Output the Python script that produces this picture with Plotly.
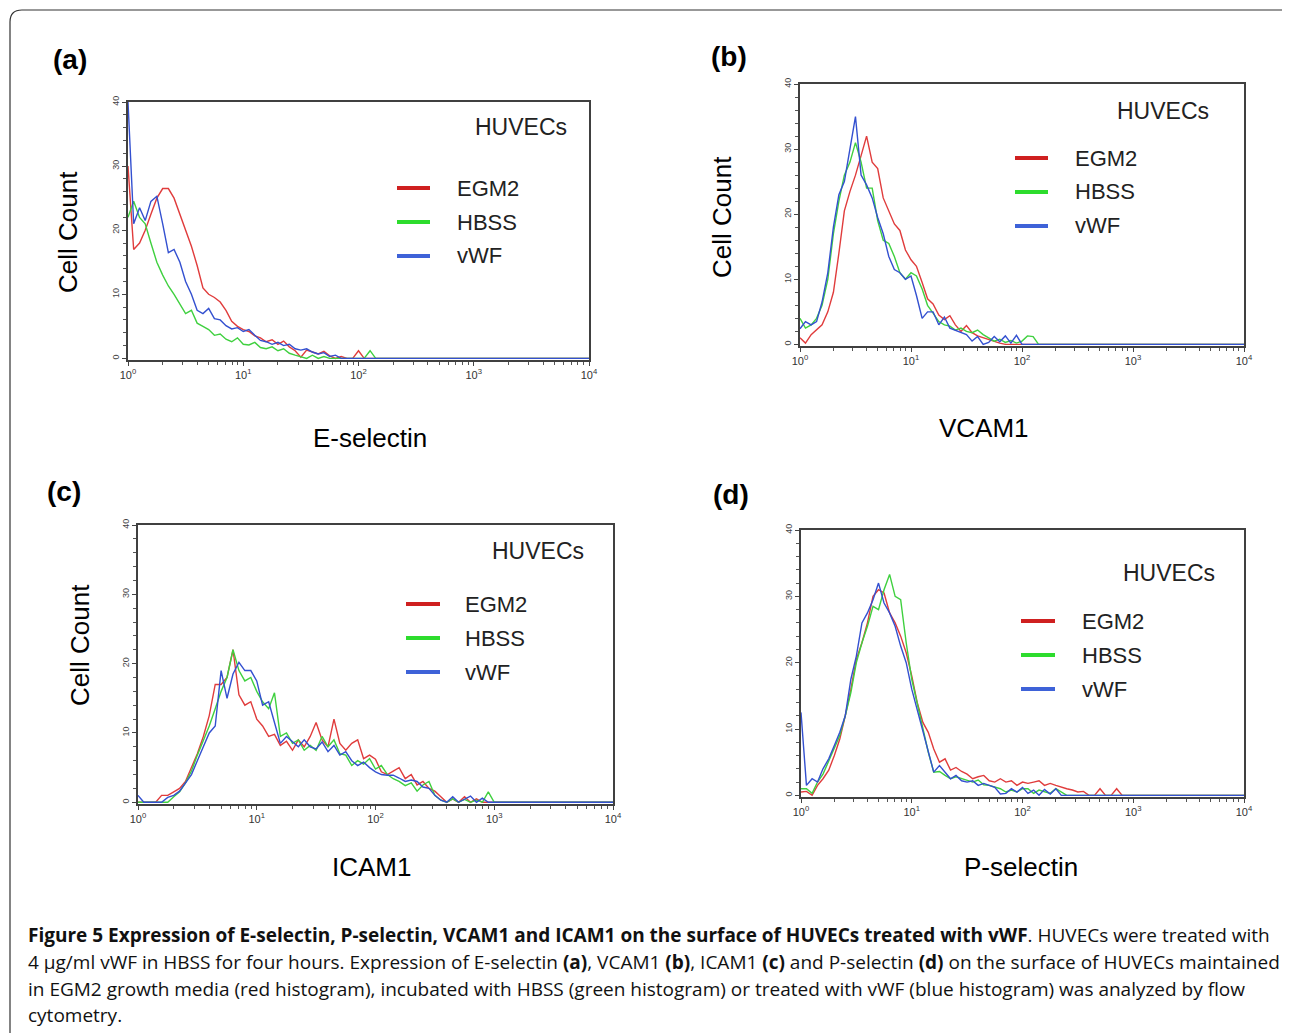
import plotly.graph_objects as go

W, H = 1290, 1033

# channel positions, 20 per decade from 10^0 to 10^3, plus the 10^4 end of the scale
CHANNELS = [1.00, 1.12, 1.26, 1.41, 1.58, 1.78, 2.00, 2.24, 2.51, 2.82,
            3.16, 3.55, 3.98, 4.47, 5.01, 5.62, 6.31, 7.08, 7.94, 8.91,
            10.0, 11.2, 12.6, 14.1, 15.8, 17.8, 20.0, 22.4, 25.1, 28.2,
            31.6, 35.5, 39.8, 44.7, 50.1, 56.2, 63.1, 70.8, 79.4, 89.1,
            100, 112, 126, 141, 158, 178, 200, 224, 251, 282,
            316, 355, 398, 447, 501, 562, 631, 708, 794, 891,
            1000, 10000]

# cell counts per channel (channels past the end of a list are empty)
ESEL_EGM2 = [30, 17, 18, 20, 22.5, 25, 26.5, 26.5, 25, 22.5, 20, 17.5, 14.5, 11, 10, 9.5,
             8.8, 7.5, 5.8, 5, 4.5, 4.2, 3.5, 3.2, 2.6, 2.9, 2.2, 2.7, 1.8, 1.2, 0.2, 1.3,
             1.0, 0.7, 1.1, 0.4, 0, 0.3, 0, 0, 1.2, 0]
ESEL_HBSS = [22, 24.5, 22, 21, 18, 15, 13, 11.3, 10, 8.5, 7, 7.5, 5.5, 5, 4.5, 3.6,
             3.8, 3, 2.6, 3.2, 2.2, 2.1, 2.5, 1.7, 1.5, 1.8, 1.2, 1.5, 0.8, 0.5, 0.3, 0,
             0.5, 0, 0.3, 0, 0, 0, 0, 0, 0, 0, 1.2, 0]
ESEL_VWF = [40, 21, 23.5, 21.5, 24.5, 25.3, 21, 16.5, 17, 15, 12, 10, 7.5, 7, 7.8, 6.2,
            6, 5.1, 4.6, 4.8, 4.2, 4.5, 3.6, 2.8, 2.6, 2.2, 2.5, 2.0, 2.2, 1.5, 1.3, 1.5,
            1.0, 0.7, 0.9, 0.3, 0.5, 0]

VCAM_EGM2 = [1, 0.2, 1.5, 2.2, 3, 5, 8, 14, 20.5, 23.5, 26, 29, 32, 28, 27, 22.5,
             20.5, 18.5, 17.5, 14.5, 13, 12, 9.5, 7, 6.2, 4.5, 3.8, 4.4, 3, 2, 2.9, 1.8,
             1.3, 1, 0.8, 0.4, 0.2, 0]
VCAM_HBSS = [4, 2.5, 3, 4, 6, 10, 17, 22, 26, 28, 31, 28, 24, 24, 19, 16,
             15.5, 13.5, 11, 10, 11, 10.5, 8.5, 6, 4.8, 3.5, 3, 2.8, 2.2, 2.5, 2, 1.8,
             2.2, 1.5, 1, 0.5, 0.8, 0.3, 0.6, 0.2, 0.5, 1.3, 1.2, 0]
VCAM_VWF = [2.4, 3.5, 3.0, 3.5, 6.5, 11, 18, 23, 25, 30, 35, 26, 24.5, 22.5, 19.5, 17,
            13.5, 11.5, 11, 10, 10.5, 7.5, 4, 5, 5, 3, 4.2, 2.5, 2.2, 1.8, 1.5, 0.5,
            1.2, 0, 0.3, 1.2, 0.4, 1.3, 0.2, 1.4, 0]

ICAM_EGM2 = [0, 0, 0, 0, 1, 1, 1.5, 2, 3, 5, 7, 9.5, 12.5, 17, 17, 18,
             22, 15.5, 14, 14.5, 12, 11, 9.5, 9.8, 8.2, 8.8, 7.5, 9, 8, 9.5, 11.5, 9,
             8, 12, 8.5, 7.5, 8.5, 9, 6.3, 6.8, 6.2, 4.4, 4, 4.5, 5, 3.4, 4, 2.5,
             3, 2, 1.6, 0.8, 0, 0.5, 0, 0.8, 0, 0.5, 0]
ICAM_HBSS = [0, 0, 0, 0, 0, 0, 0.8, 1.5, 2.8, 4.5, 6.8, 8.8, 11, 13.5, 16, 18,
             22, 19, 17.5, 18, 16, 14.5, 13.5, 15.8, 9.5, 10, 8.5, 9, 7.5, 8.2, 7.5, 9.5,
             8, 9, 7, 6.8, 5.3, 6, 5.5, 6.3, 4.8, 5.3, 4, 3.4, 3, 2.4, 2.8, 1.6,
             2.5, 3, 1, 0.3, 0, 0.5, 0, 0.4, 0, 0.3, 0, 1.5, 0]
ICAM_VWF = [1, 0, 0, 0, 0, 0.7, 1, 1.6, 2.8, 4, 6, 8, 10, 11, 19, 15,
            18.5, 20.2, 19, 19, 17.5, 14, 14.5, 11.5, 8.5, 9.5, 8.7, 8, 9, 8, 7.7, 8.7,
            7.3, 8.2, 6.8, 7.3, 6, 5.3, 5.8, 5, 4.4, 4, 3.9, 3.9, 3.5, 3, 3.2, 3,
            2.2, 2, 1, 0.3, 0, 0.8, 0, 0.5, 0.9, 0, 0.6, 0]

PSEL_EGM2 = [0.5, 0.6, 0, 1.5, 2.5, 3.8, 6, 8.5, 12, 16, 20.5, 23, 26, 30, 31, 30.5,
             27.5, 26, 24, 21.5, 18, 14, 11, 9.5, 7, 5, 5.5, 3.8, 4.2, 3.6, 3.2, 2.5,
             2.8, 3, 2.2, 2, 2.5, 2, 2.2, 1.5, 2, 1.8, 2, 2.2, 1.5, 1.8, 1.5, 1.2,
             1, 0.8, 0.5, 0.6, 0, 0, 1, 0, 0, 1, 0]
PSEL_HBSS = [1, 1, 0.3, 2, 3.2, 5.1, 7, 9, 12, 15.5, 20, 23, 25.5, 28.5, 28, 31,
             33.3, 30, 29.5, 23, 17.5, 14, 10, 6.5, 3.5, 3.6, 3, 2.5, 2.8, 2.5, 2.2, 2,
             2.3, 1.6, 1.5, 1.2, 1, 0.5, 0.8, 0.5, 1, 1, 0.3, 0.8, 0.5, 0.3, 1, 0.5, 0]
PSEL_VWF = [12.5, 1.5, 2.5, 2, 4, 5.5, 7.5, 9.5, 12, 17.5, 21, 26, 27.5, 29.5, 32, 29,
            27.5, 25.5, 22.5, 20, 16, 13, 9.5, 6.5, 3.5, 4.5, 3.5, 2.5, 3, 2.2, 2, 2.2,
            1.5, 1.8, 1.5, 1.2, 0.2, 0.3, 1, 0.5, 1.2, 0.3, 0.8, 0, 0.9, 0.2, 1, 0]

GROUPS = ["EGM2", "HBSS", "vWF"]
MARKERS = ["E-selectin", "VCAM1", "ICAM1", "P-selectin"]
PANEL_TAGS = ["(a)", "(b)", "(c)", "(d)"]
SERIES = [
    [ESEL_EGM2, ESEL_HBSS, ESEL_VWF],
    [VCAM_EGM2, VCAM_HBSS, VCAM_VWF],
    [ICAM_EGM2, ICAM_HBSS, ICAM_VWF],
    [PSEL_EGM2, PSEL_HBSS, PSEL_VWF],
]
Y_TICKS = [0, 10, 20, 30, 40]
X_TICKS = [1, 10, 100, 1000, 10000]
X_TICK_TEXT = ["10<sup>0</sup>", "10<sup>1</sup>", "10<sup>2</sup>", "10<sup>3</sup>", "10<sup>4</sup>"]

CAPTION = [
    "<b>Figure 5 Expression of E-selectin, P-selectin, VCAM1 and ICAM1 on the surface of HUVECs treated with vWF</b>. HUVECs were treated with",
    "4 µg/ml vWF in HBSS for four hours. Expression of E-selectin <b>(a)</b>, VCAM1 <b>(b)</b>, ICAM1 <b>(c)</b> and P-selectin <b>(d)</b> on the surface of HUVECs maintained",
    "in EGM2 growth media (red histogram), incubated with HBSS (green histogram) or treated with vWF (blue histogram) was analyzed by flow",
    "cytometry.",
]

# ---- layout (pixel positions in the 1290x1033 page) ----
PAGE_OFFSET = 8  # the page body margin shifts the figure by this much
LINE_COLORS = ["#e03c3c", "#3fd03f", "#3350d0"]
SWATCH_COLORS = ["#cf2020", "#2ddc2d", "#3e62d8"]

PANELS = [
    dict(plot=(128, 589, 102, 360), tag=(70, 60), ylab=(68, 232), xlab=(370, 438),
         huvec=(521, 127), legend=(397, 430, 188, 455)),
    dict(plot=(800, 1244, 84, 346), tag=(729, 56), ylab=(722, 217), xlab=(984, 428),
         huvec=(1163, 111), legend=(1015, 1048, 158, 1073)),
    dict(plot=(138, 613, 525, 804), tag=(64, 492), ylab=(80, 645), xlab=(371, 867),
         huvec=(538, 551), legend=(406, 440, 604, 463)),
    dict(plot=(801, 1244, 530, 797), tag=(731, 494), ylab=None, xlab=(1021, 867),
         huvec=(1169, 573), legend=(1021, 1055, 621, 1080)),
]
LEGEND_STEP = 34
CAPTION_Y = [935, 962, 989, 1015]


def fx(p):
    return (p - PAGE_OFFSET) / W


def fy(p):
    return 1 - (p - PAGE_OFFSET) / H


def note(x, y, text, size, **kw):
    font = dict(family=kw.pop("family", "Liberation Sans"), size=size, color=kw.pop("color", "#111"))
    kw.setdefault("xanchor", "center")
    kw.setdefault("yanchor", "middle")
    return dict(x=fx(x), y=fy(y), xref="paper", yref="paper", text=text,
                showarrow=False, font=font, **kw)


fig = go.Figure()
annotations = []
shapes = []
minor_x = [k * 10 ** d for d in range(4) for k in range(2, 10)]

for i, panel in enumerate(PANELS):
    n = i + 1
    xa = "x" if n == 1 else f"x{n}"
    ya = "y" if n == 1 else f"y{n}"
    left, right, top, bottom = panel["plot"]

    for values, name, color in zip(SERIES[i], GROUPS, LINE_COLORS):
        counts = values + [0] * (len(CHANNELS) - len(values))
        fig.add_trace(go.Scatter(
            x=CHANNELS, y=counts, mode="lines", name=name,
            line=dict(color=color, width=1.4),
            xaxis=xa, yaxis=ya, showlegend=False,
        ))

    axis_common = dict(showline=True, linecolor="#404040", linewidth=1.8, mirror=True,
                       showgrid=False, zeroline=False, ticks="outside", automargin=False,
                       tickcolor="#444")
    fig.layout[f"xaxis{'' if n == 1 else n}"] = dict(
        type="log", range=[0, 4], domain=[fx(left), fx(right)], anchor=ya,
        tickmode="array", tickvals=X_TICKS, ticktext=X_TICK_TEXT, ticklen=4,
        tickfont=dict(family="Liberation Sans", size=11, color="#333"),
        minor=dict(tickmode="array", tickvals=minor_x, ticks="outside", ticklen=3, tickcolor="#555"),
        **axis_common)
    fig.layout[f"yaxis{'' if n == 1 else n}"] = dict(
        range=[-0.25, 40], domain=[fy(bottom), fy(top)], anchor=xa,
        tickmode="array", tickvals=Y_TICKS, tickangle=-90, ticklen=4,
        tickfont=dict(family="Liberation Sans", size=9, color="#444"),
        minor=dict(dtick=2, ticks="outside", ticklen=3, tickcolor="#555"),
        **axis_common)

    annotations.append(note(*panel["tag"], f"<b>{PANEL_TAGS[i]}</b>", 28, color="#000"))
    if panel["ylab"]:
        annotations.append(note(*panel["ylab"], "Cell Count", 26, color="#000", textangle=-90))
    annotations.append(note(*panel["xlab"], MARKERS[i], 26, color="#000"))
    annotations.append(note(*panel["huvec"], "HUVECs", 23, color="#222"))

    sx0, sx1, sy, txt_x = panel["legend"]
    for k, (name, color) in enumerate(zip(GROUPS, SWATCH_COLORS)):
        yy = sy + k * LEGEND_STEP
        shapes.append(dict(type="line", xref="paper", yref="paper",
                           x0=fx(sx0), x1=fx(sx1), y0=fy(yy), y1=fy(yy),
                           line=dict(color=color, width=4)))
        annotations.append(note(txt_x, yy, name, 22, color="#222", xanchor="left"))

for line, yy in zip(CAPTION, CAPTION_Y):
    annotations.append(note(26, yy, line, 19, family="Open Sans", xanchor="left"))

# rounded page frame
pts = [(10, 1045), (10, 22), (10, 10), (22, 10), (1282, 10), (1294, 10), (1294, 22), (1294, 1045)]
p = [(fx(a), fy(b)) for a, b in pts]
frame = (f"M {p[0][0]},{p[0][1]} L {p[1][0]},{p[1][1]} Q {p[2][0]},{p[2][1]} {p[3][0]},{p[3][1]} "
         f"L {p[4][0]},{p[4][1]} Q {p[5][0]},{p[5][1]} {p[6][0]},{p[6][1]} L {p[7][0]},{p[7][1]}")
shapes.append(dict(type="path", xref="paper", yref="paper", path=frame,
                   line=dict(color="#333", width=1.2)))

fig.update_layout(
    width=W, height=H, autosize=False,
    margin=dict(l=0, r=0, t=0, b=0, pad=0),
    paper_bgcolor="white", plot_bgcolor="white",
    annotations=annotations, shapes=shapes,
)

fig.write_html("out.html")
